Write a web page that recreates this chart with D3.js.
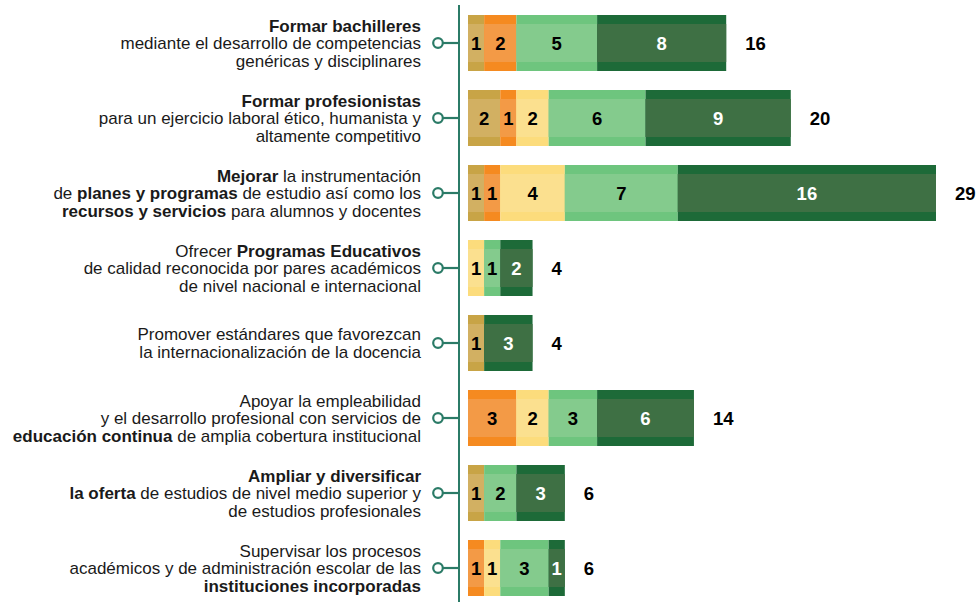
<!DOCTYPE html>
<html>
<head>
<meta charset="utf-8">
<script src="https://cdn.jsdelivr.net/npm/d3@7"></script>
<style>
  html, body { margin: 0; padding: 0; background: #fff; }
  svg { display: block; font-family: "Liberation Sans", Arial, sans-serif; }
</style>
</head>
<body>
<svg id="chart" width="978" height="602"></svg>
<script>
// Category labels (** marks bold text)
const labels = [
  ["**Formar bachilleres**", "mediante el desarrollo de competencias", "genéricas y disciplinares"],
  ["**Formar profesionistas**", "para un ejercicio laboral ético, humanista y", "altamente competitivo"],
  ["**Mejorar** la instrumentación", "de **planes y programas** de estudio así como los", "**recursos y servicios** para alumnos y docentes"],
  ["Ofrecer **Programas Educativos**", "de calidad reconocida por pares académicos", "de nivel nacional e internacional"],
  ["Promover estándares que favorezcan", "la internacionalización de la docencia"],
  ["Apoyar la empleabilidad", "y el desarrollo profesional con servicios de", "**educación continua** de amplia cobertura institucional"],
  ["**Ampliar y diversificar**", "**la oferta** de estudios de nivel medio superior y", "de estudios profesionales"],
  ["Supervisar los procesos", "académicos y de administración escolar de las", "**instituciones incorporadas**"]
];
// Series values (5 stacked groups)
const serie1 = [1, 2, 1, 0, 1, 0, 1, 0];
const serie2 = [2, 1, 1, 0, 0, 3, 0, 1];
const serie3 = [0, 2, 4, 1, 0, 2, 0, 1];
const serie4 = [5, 6, 7, 1, 0, 3, 2, 3];
const serie5 = [8, 9, 16, 2, 3, 6, 3, 1];
const seriesNames = ["s1", "s2", "s3", "s4", "s5"];
const outerColors = ["#c8a446", "#f58a20", "#fcdc7c", "#6ec57e", "#1d6a38"];
const innerColors = ["#d2b062", "#f39a46", "#fbe08f", "#84cb8d", "#3e7044"];
const textColors = ["#000", "#000", "#000", "#000", "#fff"];

const rows = labels.map((l, i) => ({
  i, s1: serie1[i], s2: serie2[i], s3: serie3[i], s4: serie4[i], s5: serie5[i]
}));
const totals = rows.map(r => seriesNames.reduce((a, k) => a + r[k], 0));

const svg = d3.select("#chart");
const x = d3.scaleLinear().domain([0, 29]).range([468, 936]);
const y = d3.scalePoint().domain(d3.range(labels.length)).range([43, 568]);
const barH = 56, stripe = 9;
const axisColor = "#2b7b67";

// axis line
svg.append("line").attr("x1", 459).attr("x2", 459).attr("y1", 5).attr("y2", 602)
  .attr("stroke", axisColor).attr("stroke-width", 2);

const stack = d3.stack().keys(seriesNames)(rows);

stack.forEach((layer, si) => {
  const g = svg.append("g");
  layer.forEach((d, ri) => {
    const v = d[1] - d[0];
    if (v <= 0) return;
    const x0 = x(d[0]), w = x(d[1]) - x(d[0]);
    const cy = y(ri);
    g.append("rect").attr("x", x0).attr("y", cy - barH / 2).attr("width", w).attr("height", barH)
      .attr("fill", outerColors[si]);
    g.append("rect").attr("x", x0).attr("y", cy - barH / 2 + stripe).attr("width", w).attr("height", barH - 2 * stripe)
      .attr("fill", innerColors[si]);
    g.append("text").attr("x", x0 + w / 2).attr("y", cy).attr("dy", "0.36em")
      .attr("text-anchor", "middle").attr("font-weight", "bold").attr("font-size", 18.5)
      .attr("fill", textColors[si]).text(v);
  });
});

// totals
svg.selectAll(".total").data(totals).join("text")
  .attr("class", "total")
  .attr("x", d => x(d) + 19).attr("y", (d, i) => y(i)).attr("dy", "0.36em")
  .attr("font-weight", "bold").attr("font-size", 18.5).attr("fill", "#000")
  .text(d => d);

// connectors and circles
labels.forEach((l, i) => {
  const cy = y(i);
  svg.append("line").attr("x1", 443).attr("x2", 459).attr("y1", cy).attr("y2", cy)
    .attr("stroke", axisColor).attr("stroke-width", 2.2);
  svg.append("circle").attr("cx", 438).attr("cy", cy).attr("r", 4.8)
    .attr("fill", "#fff").attr("stroke", axisColor).attr("stroke-width", 2.2);
});

// labels
const lineH = 17.6;
labels.forEach((lines, i) => {
  const cy = y(i);
  const n = lines.length;
  lines.forEach((line, li) => {
    const t = svg.append("text").attr("x", 421)
      .attr("y", cy + (li - (n - 1) / 2) * lineH).attr("dy", "0.36em")
      .attr("text-anchor", "end").attr("font-size", 17).attr("fill", "#1a1a1a");
    const parts = line.split("**");
    parts.forEach((p, pi) => {
      if (!p) return;
      t.append("tspan").attr("font-weight", pi % 2 === 1 ? "bold" : "normal").text(p);
    });
  });
});
</script>
</body>
</html>
